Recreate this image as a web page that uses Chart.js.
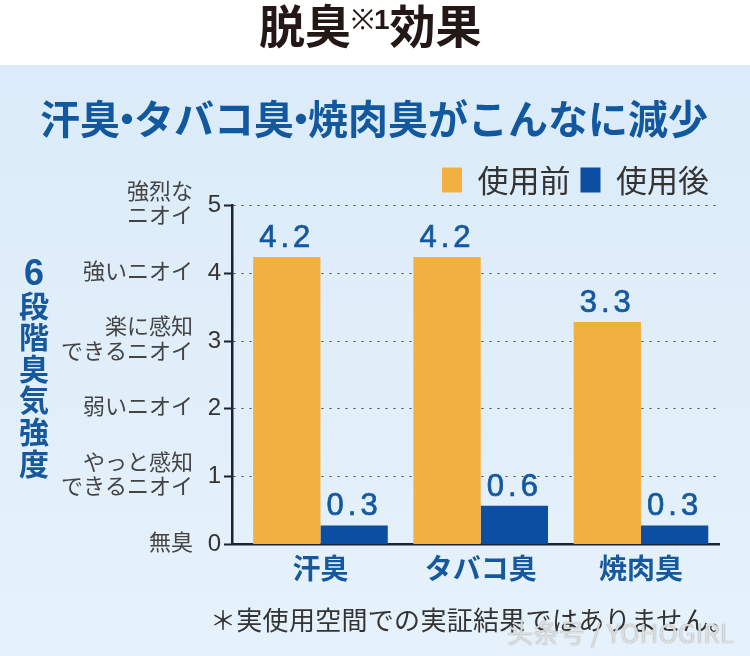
<!DOCTYPE html>
<html>
<head>
<meta charset="utf-8">
<script src="https://cdn.jsdelivr.net/npm/chart.js@4"></script>
<style>
  html, body { margin: 0; padding: 0; background: #fff; }
  body { width: 750px; height: 656px; position: relative; overflow: hidden; font-family: "Noto Sans CJK JP", sans-serif; }
  .band { position: absolute; left: 0; top: 65px; width: 750px; height: 591px; background: linear-gradient(#dbebf9, #e6f2fb); }
  canvas { position: absolute; left: 0; top: 0; }
  .txt { position: absolute; white-space: nowrap; }
  #heading { left: 259px; top: -6px; font-size: 46px; line-height: 58px; font-weight: 700; color: #231815; }
  #heading sup { font-size: 28px; line-height: 0; font-weight: 700; vertical-align: 14px; font-family: "Liberation Sans", sans-serif; }
  #heading sup span { font-weight: 400; }
  #sub { left: 40px; top: 92px; font-size: 40px; line-height: 50px; font-weight: 700; color: #11589f; }
  #sub i { font-style: normal; margin: 0 -13px; }
  #side { left: 16px; top: 257px; width: 36px; text-align: center; font-size: 30px; line-height: 31.6px; font-weight: 700; color: #15589c; white-space: normal; }
  #side b { font-size: 36px; font-family: "Liberation Sans", sans-serif; }
  #note { left: 210px; top: 601px; font-size: 26px; line-height: 36px; letter-spacing: 0.3px; color: #333; }
  #mark { left: 507px; top: 615px; font-size: 26px; line-height: 34px; color: rgba(240,240,240,.85); text-shadow: 0 0 1px rgba(80,80,80,.8); font-family: "Noto Sans CJK SC", sans-serif; }
</style>
</head>
<body>
<div class="band"></div>
<canvas id="chart" width="750" height="656"></canvas>
<div class="txt" id="heading">脱臭<sup><span>※</span>1</sup>効果</div>
<div class="txt" id="sub">汗臭<i>・</i>タバコ臭<i>・</i>焼肉臭がこんなに減少</div>
<div class="txt" id="side"><b>6</b><br>段<br>階<br>臭<br>気<br>強<br>度</div>
<div class="txt" id="note">＊実使用空間での実証結果ではありません。</div>
<div class="txt" id="mark">头条号 / YOHOGIRL</div>
<script>
const categories = ['汗臭', 'タバコ臭', '焼肉臭'];
const beforeValues = [4.24, 4.24, 3.28];
const afterValues = [0.28, 0.57, 0.28];
const seriesNames = ['使用前', '使用後'];
const levelLabels = ['無臭', ['やっと感知', 'できるニオイ'], '弱いニオイ', ['楽に感知', 'できるニオイ'], '強いニオイ', ['強烈な', 'ニオイ']];

const ORANGE = '#f3b042';
const BLUE = '#0b4ea2';
const INK = '#1c2233';

function points(values) {
  return values.map((y, i) => ({ x: i, y }));
}

// value labels over the bars
const barLabels = {
  id: 'barLabels',
  afterDatasetsDraw(chart) {
    const ctx = chart.ctx;
    ctx.save();
    ctx.font = '31px "Liberation Sans", sans-serif';
    ctx.letterSpacing = '4px';
    ctx.fillStyle = '#14589f';
    ctx.strokeStyle = '#14589f';
    ctx.lineWidth = 0.7;
    ctx.textAlign = 'center';
    ctx.textBaseline = 'bottom';
    chart.data.datasets.forEach((ds, d) => {
      chart.getDatasetMeta(d).data.forEach((bar, i) => {
        const text = ds.data[i].y.toFixed(1);
        ctx.fillText(text, bar.x, bar.y - 3);
        ctx.strokeText(text, bar.x, bar.y - 3);
      });
    });
    ctx.restore();
  }
};

new Chart(document.getElementById('chart'), {
  type: 'bar',
  plugins: [barLabels],
  data: {
    datasets: [
      { label: seriesNames[0], data: points(beforeValues), backgroundColor: ORANGE, barPercentage: 1, categoryPercentage: 0.84 },
      { label: seriesNames[1], data: points(afterValues), backgroundColor: BLUE, barPercentage: 1, categoryPercentage: 0.84 }
    ]
  },
  options: {
    responsive: false,
    animation: false,
    layout: { padding: { left: 0, right: 31, top: 154.5, bottom: 72 } },
    plugins: {
      tooltip: { enabled: false },
      legend: {
        position: 'top',
        align: 'end',
        labels: { boxWidth: 20, boxHeight: 25, padding: 10, color: '#333', font: { size: 31, family: '"Noto Sans CJK JP"' } }
      }
    },
    scales: {
      x: {
        type: 'linear',
        min: -0.552,
        max: 2.487,
        offset: false,
        afterBuildTicks(scale) { scale.ticks = categories.map((_, i) => ({ value: i })); },
        border: { color: INK, width: 2.5 },
        grid: { display: false },
        ticks: {
          autoSkip: false,
          maxRotation: 0,
          padding: -1,
          color: '#15589c',
          font: { size: 28, weight: 'bold', family: '"Noto Sans CJK JP"' },
          callback: v => categories[v]
        }
      },
      y: {
        position: 'left',
        min: 0,
        max: 5,
        afterFit(scale) { scale.width = 39; },
        border: { color: INK, width: 2.5, dash: [2, 6] },
        grid: { color: '#444', lineWidth: 1, tickColor: INK, tickWidth: 2, tickLength: 8, tickBorderDash: [] },
        ticks: { stepSize: 1, padding: 3, color: '#333', font: { size: 24, family: '"Liberation Sans"' } }
      },
      levels: {
        position: 'left',
        min: 0,
        max: 5,
        afterFit(scale) { scale.width = 193; },
        border: { display: false },
        grid: { display: false, drawTicks: false },
        ticks: {
          stepSize: 1,
          padding: 0,
          labelOffset: -3,
          color: '#444',
          font: { size: 22, lineHeight: 1.12, family: '"Noto Sans CJK JP"' },
          callback: v => levelLabels[v]
        }
      }
    }
  }
});
</script>
</body>
</html>
